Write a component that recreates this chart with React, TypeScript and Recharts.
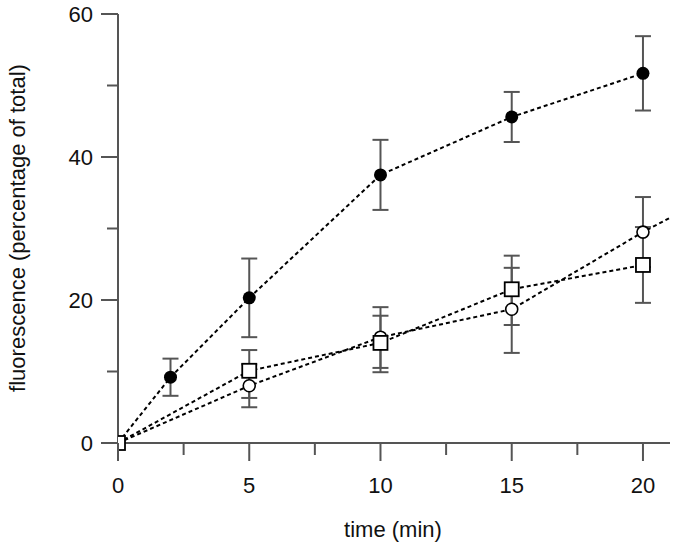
import { ComposedChart, Line, Scatter, XAxis, YAxis, ErrorBar, Label } from 'recharts';

// filled circles
const filledTime = [0, 2, 5, 10, 15, 20];
const filledMean = [0, 9.2, 20.3, 37.5, 45.6, 51.7];
const filledErr = [0, 2.6, 5.5, 4.9, 3.5, 5.2];

// open circles and open squares share the same time points
const hollowTime = [0, 5, 10, 15, 20];
const circleMean = [0, 8.0, 14.8, 18.7, 29.5];
const circleErrLow = [0, 3.0, 4.3, 6.1, 4.9];
const circleErrHigh = [0, 3.0, 4.2, 5.8, 4.9];
const squareMean = [0, 10.1, 14.0, 21.5, 24.9];
const squareErrLow = [0, 3.8, 4.1, 5.0, 5.3];
const squareErrHigh = [0, 2.9, 3.8, 4.7, 5.3];

// the open-circle trend line runs on past the last point to the axis end
const circleTailTime = 21.03;
const circleTailValue = 31.5;

const xTicks = [0, 2.5, 5, 7.5, 10, 12.5, 15, 17.5, 20];
const yTicks = [0, 10, 20, 30, 40, 50, 60];

const AXIS = '#555';
const INK = '#111';
const FONT = '"Liberation Sans", Arial, sans-serif';

const filledData = filledTime.map((x, i) => ({ x, y: filledMean[i], err: filledErr[i] }));
const circleData = hollowTime.map((x, i) => ({ x, y: circleMean[i], err: [circleErrLow[i], circleErrHigh[i]] }));
const squareData = hollowTime.map((x, i) => ({ x, y: squareMean[i], err: [squareErrLow[i], squareErrHigh[i]] }));
const circleLine = [...circleData, { x: circleTailTime, y: circleTailValue }];

function XTick({ x, y, payload }: any) {
  const major = payload.value % 5 === 0;
  return (
    <g>
      <line x1={x} x2={x} y1={y} y2={y + (major ? 18 : 12)} stroke={AXIS} strokeWidth={2} />
      {major && (
        <text x={x} y={y + 50} textAnchor="middle" fontSize={22} fontFamily={FONT} fill={INK}>
          {payload.value}
        </text>
      )}
    </g>
  );
}

function YTick({ x, y, payload }: any) {
  const major = payload.value % 20 === 0;
  return (
    <g>
      <line x1={x - (major ? 17 : 11)} x2={x} y1={y} y2={y} stroke={AXIS} strokeWidth={2} />
      {major && (
        <text x={x - 25} y={y + 8} textAnchor="end" fontSize={22} fontFamily={FONT} fill={INK}>
          {payload.value}
        </text>
      )}
    </g>
  );
}

const dot = (kind: string) => (p: any) => {
  const { cx, cy } = p;
  if (kind === 'filled') return <circle cx={cx} cy={cy} r={6.5} fill="#000" />;
  if (kind === 'circle') return <circle cx={cx} cy={cy} r={6} fill="#fff" stroke="#000" strokeWidth={1.6} />;
  return <rect x={cx - 7} y={cy - 7} width={14} height={14} fill="#fff" stroke="#000" strokeWidth={1.8} />;
};

const dashed = { stroke: '#000', strokeWidth: 2, strokeDasharray: '4 3' };

export default function App() {
  return (
    <div style={{ position: 'fixed', left: 0, top: 0, background: '#fff' }}>
      <ComposedChart width={675} height={543} margin={{ top: 14, right: 5, bottom: 0, left: 0 }}>
        <XAxis
          type="number"
          dataKey="x"
          domain={[0, 21.03]}
          ticks={xTicks}
          allowDataOverflow
          height={100}
          tickSize={0}
          tickMargin={0}
          tickLine={false}
          tick={<XTick />}
          axisLine={{ stroke: AXIS, strokeWidth: 2 }}
        >
          <Label
            content={() => (
              <text x={393} y={537} textAnchor="middle" fontSize={22} fontFamily={FONT} fill={INK}>
                time (min)
              </text>
            )}
          />
        </XAxis>
        <YAxis
          type="number"
          dataKey="y"
          domain={[0, 60]}
          ticks={yTicks}
          width={118}
          tickSize={0}
          tickMargin={0}
          tickLine={false}
          tick={<YTick />}
          axisLine={{ stroke: AXIS, strokeWidth: 2 }}
        >
          <Label
            content={() => (
              <text
                x={17}
                y={228}
                transform="rotate(-90 17 228)"
                textAnchor="middle"
                dominantBaseline="central"
                fontSize={22}
                fontFamily={FONT}
                fill={INK}
              >
                fluorescence (percentage of total)
              </text>
            )}
          />
        </YAxis>

        <Line data={filledData} dataKey="y" type="linear" dot={false} activeDot={false} {...dashed} isAnimationActive={false} />
        <Line data={circleLine} dataKey="y" type="linear" dot={false} activeDot={false} {...dashed} isAnimationActive={false} />
        <Line data={squareData} dataKey="y" type="linear" dot={false} activeDot={false} {...dashed} isAnimationActive={false} />

        <Scatter data={filledData} dataKey="y" shape={dot('filled')} isAnimationActive={false}>
          <ErrorBar dataKey="err" direction="y" width={8} stroke={AXIS} strokeWidth={2} isAnimationActive={false} />
        </Scatter>
        <Scatter data={circleData} dataKey="y" shape={dot('circle')} isAnimationActive={false}>
          <ErrorBar dataKey="err" direction="y" width={8} stroke={AXIS} strokeWidth={2} isAnimationActive={false} />
        </Scatter>
        <Scatter data={squareData} dataKey="y" shape={dot('square')} isAnimationActive={false}>
          <ErrorBar dataKey="err" direction="y" width={8} stroke={AXIS} strokeWidth={2} isAnimationActive={false} />
        </Scatter>
      </ComposedChart>
    </div>
  );
}
